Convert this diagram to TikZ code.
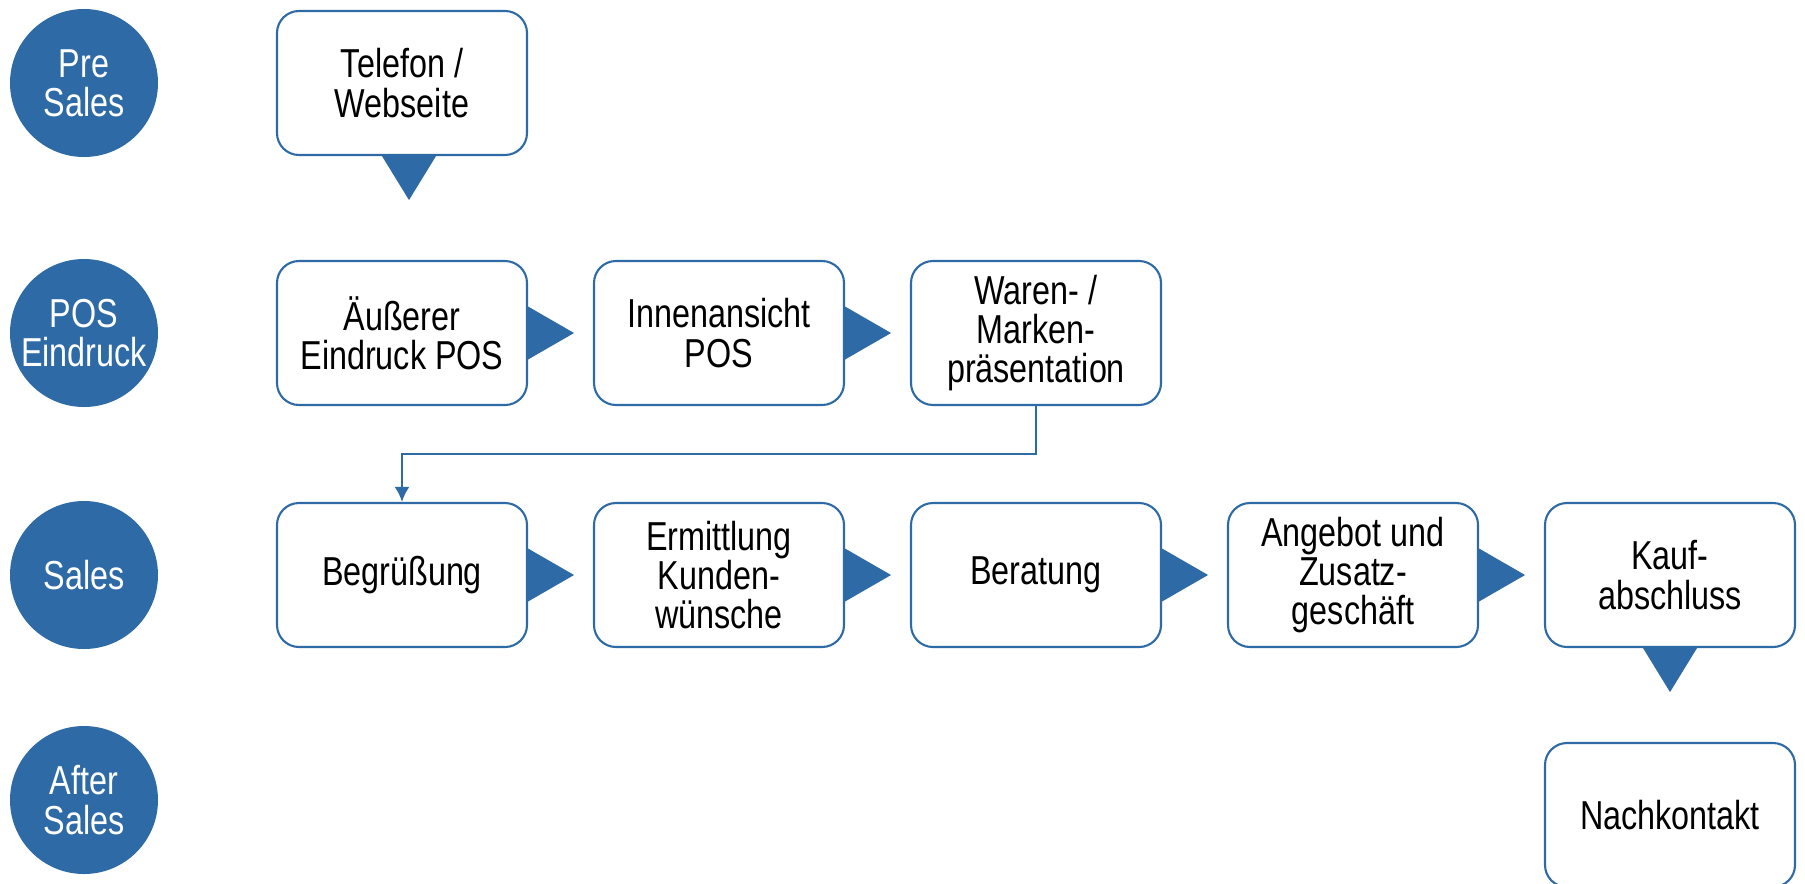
\documentclass[tikz,border=0pt]{standalone}
\usepackage{fontspec}
\setmainfont{Liberation Sans}[FakeStretch=0.8]
\usetikzlibrary{calc, arrows.meta}
\definecolor{phaseblau}{RGB}{46,106,166}
\newcommand{\schrift}{\fontsize{11.5}{11.2}\selectfont}
\newcommand{\spitzeR}[1]{\fill[phaseblau] ($(#1.east)+(0,.265)$)--($(#1.east)+(.46,0)$)--($(#1.east)+(0,-.265)$)--cycle;}
\newcommand{\spitzeU}[2][0]{\fill[phaseblau] ($(#2.south)+(#1-.27,0)$)--($(#2.south)+(#1,-.44)$)--($(#2.south)+(#1+.27,0)$)--cycle;}

\begin{document}
\begin{tikzpicture}[>={Latex[length=1.5mm,width=1.5mm]}, scale=1,
    phase/.style={circle, fill=phaseblau, text=white, minimum size=1.48cm, inner sep=0pt, align=center, font=\schrift},
    schritt/.style={draw=phaseblau, line width=.6pt, rounded corners=.22cm, fill=white, minimum width=2.5cm, minimum height=1.44cm, inner sep=0pt, align=center, font=\schrift}]
\useasboundingbox (0,0) rectangle (18.05,-8.83);
\foreach \name/\y/\txt in {pre/.83/{Pre\\Sales}, pos/3.33/{POS\\Eindruck}, sales/5.75/{Sales}, after/8.00/{After\\Sales}}
{
    \node[phase] (\name) at (.84,-\y) {\txt};
}
\node[schritt] (telefon) at (4.02,-.83) {Telefon /\\Webseite};
\node[schritt] (aeusserer) at (4.02,-3.33) {Äußerer\\Eindruck POS};
\node[schritt] (innen) at (7.19,-3.33) {Innenansicht\\POS};
\node[schritt] (waren) at (10.36,-3.33) {Waren- /\\Marken-\\präsentation};
\node[schritt] (begr) at (4.02,-5.75) {Begrüßung};
\node[schritt] (ermittlung) at (7.19,-5.75) {Ermittlung\\Kunden-\\wünsche};
\node[schritt] (beratung) at (10.36,-5.75) {Beratung};
\node[schritt] (angebot) at (13.53,-5.75) {Angebot und\\Zusatz-\\geschäft};
\node[schritt] (kauf) at (16.70,-5.75) {Kauf-\\abschluss};
\node[schritt] (nach) at (16.70,-8.15) {Nachkontakt};
\foreach \k in {aeusserer, innen, begr, ermittlung, beratung, angebot}
{
    \spitzeR{\k}
}
\spitzeU[.07]{telefon}
\spitzeU{kauf}
\draw[->, phaseblau, line width=.7pt] (waren.south) -- ++(0,-.48) -| (begr.north);
\end{tikzpicture}
\end{document}
